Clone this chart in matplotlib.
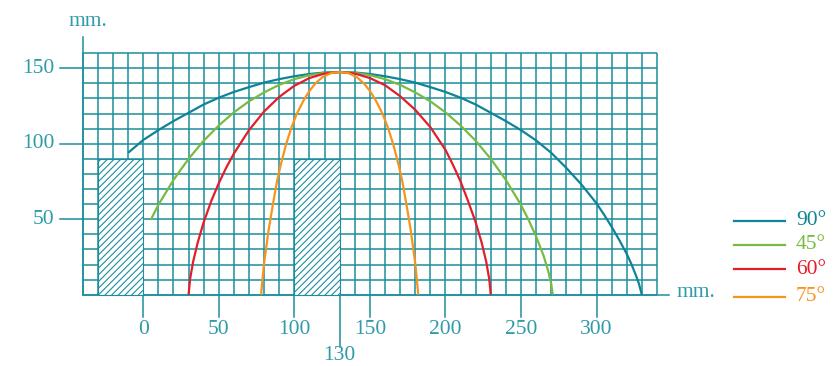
import numpy as np
import matplotlib
matplotlib.use("Agg")
import matplotlib.pyplot as plt
from matplotlib.patches import Rectangle

# Trajectory curves (x, y in mm)
teal_x = [-10, 0, 10, 20, 30, 40, 50, 60, 70, 80, 90, 100, 110, 120, 130,
          140, 150, 160, 170, 180, 190, 200, 210, 220, 230, 240, 250, 260, 270,
          280, 290, 300, 305, 310, 315, 320, 323, 326, 328, 330]
teal_y = [94, 102.5, 109, 115, 120.5, 126, 130.5, 134.3, 137.5, 140.5, 142.8, 144.7, 146.2, 147.2, 147.5,
          147.2, 146.2, 144.7, 142.8, 140.5, 137.5, 134.3, 130.5, 126, 120.5, 115, 109, 102.2, 94,
          84, 73, 60.5, 53, 45, 36.3, 27, 20.5, 13, 7.5, 0]

green_x = [5, 10, 20, 30, 40, 50, 60, 70, 80, 90, 100, 110, 120, 130,
           140, 150, 160, 170, 180, 190, 200, 210, 220, 230, 240, 250, 255, 260, 265, 268, 270, 271]
green_y = [49.6, 59.5, 76, 90, 102, 112.1, 120.8, 128.1, 134, 139, 142.8, 145.4, 147, 147.5,
           147, 145.4, 142.8, 139, 134, 128.1, 120.8, 112.1, 102, 90, 76, 59.5, 49.6, 38.6, 25.7, 15.7, 7.3, 0]

red_x = [30, 31, 33, 36, 40, 45, 50, 55, 60, 70, 80, 90, 100, 110, 120, 130,
         140, 150, 160, 170, 180, 190, 200, 205, 210, 215, 220, 224, 227, 229, 230]
red_y = [0, 10.4, 21.8, 34.4, 48, 62, 73.9, 84.3, 93.5, 109, 121.4, 131, 138.4, 143.5, 146.5, 147.5,
         146.5, 143.5, 138.8, 131.5, 122.5, 111, 96, 86, 75, 62, 48, 34.4, 21.8, 10.4, 0]

orange_x = [78, 79, 80, 81.5, 83, 85.5, 88.5, 91, 94.5, 98, 101.5, 106, 110, 114, 118.5, 124, 130,
            136, 141.5, 146, 150, 154, 158.5, 162, 165.5, 169, 171.5, 174.5, 177, 178.5, 180, 181, 182]
orange_y = [0, 11, 21, 32, 43, 58, 75, 86, 99.5, 110.5, 119.5, 128.5, 135, 140, 144, 146.7, 147.5,
            146.7, 144, 140, 135, 128.5, 119.5, 110.5, 99.5, 86, 75, 58, 43, 32, 21, 11, 0]

labels = ["90°", "45°", "60°", "75°"]
colors = ["#0f8397", "#77bb41", "#e31e2b", "#f7941d"]

# obstacles: (left, width, height)
blocks = [(-30, 30, 90), (100, 30, 90)]

x_ticks = [0, 50, 100, 150, 200, 250, 300]
y_ticks = [50, 100, 150]
mark_x = 130

grid_col = "#1b8e9d"
text_col = "#2f9aa8"
font = "Liberation Serif"

plt.rcParams["hatch.linewidth"] = 0.8

fig = plt.figure(figsize=(8.33, 3.66), dpi=100)
ax = fig.add_axes([0, 0, 1, 1])
ax.set_xlim(-94.8, 456.5)
ax.set_ylim(-47.2, 195.2)
ax.axis("off")

# grid
gx = np.arange(-40, 341, 10)
gy = np.arange(0, 161, 10)
ax.vlines(gx, 0, 160, color=grid_col, lw=1.1, zorder=1)
ax.hlines(gy, -40, 340, color=grid_col, lw=1.1, zorder=1)

# axis lines
ax.plot([-40, -40], [0, 171], color=grid_col, lw=1.1, zorder=1)
ax.plot([-40, 348], [0, 0], color=grid_col, lw=1.1, zorder=1)

# ticks and labels
for t in y_ticks:
    ax.plot([-55, -40], [t, t], color=grid_col, lw=1.1)
    ax.text(-59, t, str(t), ha="right", va="center", fontsize=15.5,
            family=font, color=text_col)
for t in x_ticks:
    ax.plot([t, t], [0, -14.5], color=grid_col, lw=1.1)
    ax.text(t, -23, str(t), ha="center", va="center", fontsize=15.5,
            family=font, color=text_col)
ax.plot([mark_x, mark_x], [0, -34.5], color=grid_col, lw=1.1)
ax.text(mark_x, -40.5, str(mark_x), ha="center", va="center", fontsize=15.5,
        family=font, color=text_col)

ax.text(-49.5, 181, "mm.", ha="left", va="center", fontsize=15.5,
        family=font, color=text_col)
ax.text(353, 1.5, "mm.", ha="left", va="center", fontsize=15.5,
        family=font, color=text_col)

# hatched blocks
for left, w, h in blocks:
    ax.add_patch(Rectangle((left, 0), w, h, facecolor="white",
                           edgecolor=grid_col, hatch="/////", lw=0.8, zorder=2))

# curves
for xs, ys, c in zip([teal_x, green_x, red_x, orange_x],
                     [teal_y, green_y, red_y, orange_y], colors):
    ax.plot(xs, ys, color=c, lw=1.6, zorder=3, solid_capstyle="butt",
            solid_joinstyle="round")

# legend
leg_y = [49, 33, 17, -1.3]
for lab, c, ly in zip(labels, colors, leg_y):
    ax.plot([391, 425], [ly, ly], color=c, lw=1.6)
    ax.text(432, ly, lab, ha="left", va="center", fontsize=15.5,
            family=font, color=c)

fig.savefig("out.png", dpi=100)
